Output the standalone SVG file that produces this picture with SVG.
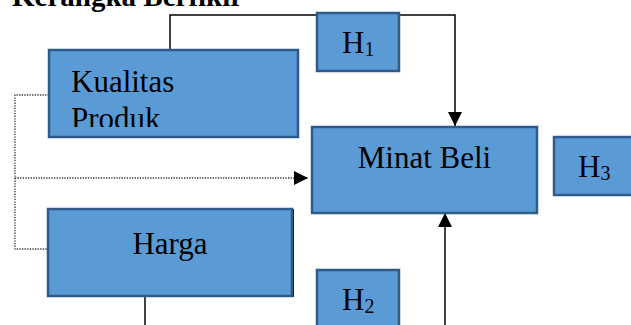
<svg xmlns="http://www.w3.org/2000/svg" width="631" height="325" viewBox="0 0 631 325">
  <style>
    .box { fill: #5B9BD5; stroke: #2F5B8A; stroke-width: 2.5; }
    .lbl { font-family: "Liberation Serif", "Times New Roman", serif; font-size: 31px; fill: #000; }
    .sub { font-size: 20px; }
    .title { font-family: "Liberation Serif", "Times New Roman", serif; font-size: 29px; font-weight: bold; fill: #000; }
    .solid { fill: none; stroke: #000; stroke-width: 1.5; }
    .dotted { fill: none; stroke: #333; stroke-width: 1.3; stroke-dasharray: 1.3 1.3; }
  </style>
  <defs>
    <marker id="arrowBig" viewBox="0 0 10 10" refX="10" refY="5" markerWidth="15" markerHeight="14" markerUnits="userSpaceOnUse" orient="auto">
      <path d="M0,0 L10,5 L0,10 Z" fill="#000"/>
    </marker>
    <clipPath id="kpClip">
      <rect x="49" y="50" width="249" height="77"/>
    </clipPath>
  </defs>

  <rect width="631" height="325" fill="#fff"/>

  <!-- heading, partly above the top edge -->
  <text class="title" x="12" y="6">Kerangka Berfikir</text>

  <!-- connectors -->
  <g id="connectors">
    <path class="solid" d="M170,50 V15 H455 V126" marker-end="url(#arrowBig)"/>
    <path class="dotted" d="M49,95 H15 V249 H48"/>
    <path class="dotted" d="M15,178 H308" marker-end="url(#arrowBig)"/>
    <path class="solid" d="M145,297 V325"/>
    <path class="solid" d="M445,325 V213" marker-end="url(#arrowBig)"/>
  </g>

  <g id="kualitas-produk">
    <rect class="box" x="49" y="50" width="249" height="87"/>
    <g clip-path="url(#kpClip)">
      <text class="lbl" x="71" y="92">Kualitas</text>
      <text class="lbl" x="71" y="129">Produk</text>
    </g>
  </g>

  <g id="h1">
    <rect class="box" x="317" y="13" width="82" height="58"/>
    <text class="lbl" x="342" y="53">H<tspan class="sub" dy="3">1</tspan></text>
  </g>

  <g id="minat-beli">
    <rect class="box" x="312" y="127" width="225" height="86"/>
    <text class="lbl" x="424.5" y="168" text-anchor="middle">Minat Beli</text>
  </g>

  <g id="h3">
    <rect class="box" x="554" y="137" width="90" height="58"/>
    <text class="lbl" x="578" y="177">H<tspan class="sub" dy="3">3</tspan></text>
  </g>

  <g id="harga">
    <rect class="box" x="48" y="209" width="244" height="87"/>
    <line x1="293.5" y1="209" x2="293.5" y2="297" stroke="#222" stroke-width="1"/>
    <text class="lbl" x="170" y="254" text-anchor="middle">Harga</text>
  </g>

  <g id="h2">
    <rect class="box" x="317" y="270" width="82" height="70"/>
    <text class="lbl" x="342" y="310">H<tspan class="sub" dy="3">2</tspan></text>
  </g>
</svg>
